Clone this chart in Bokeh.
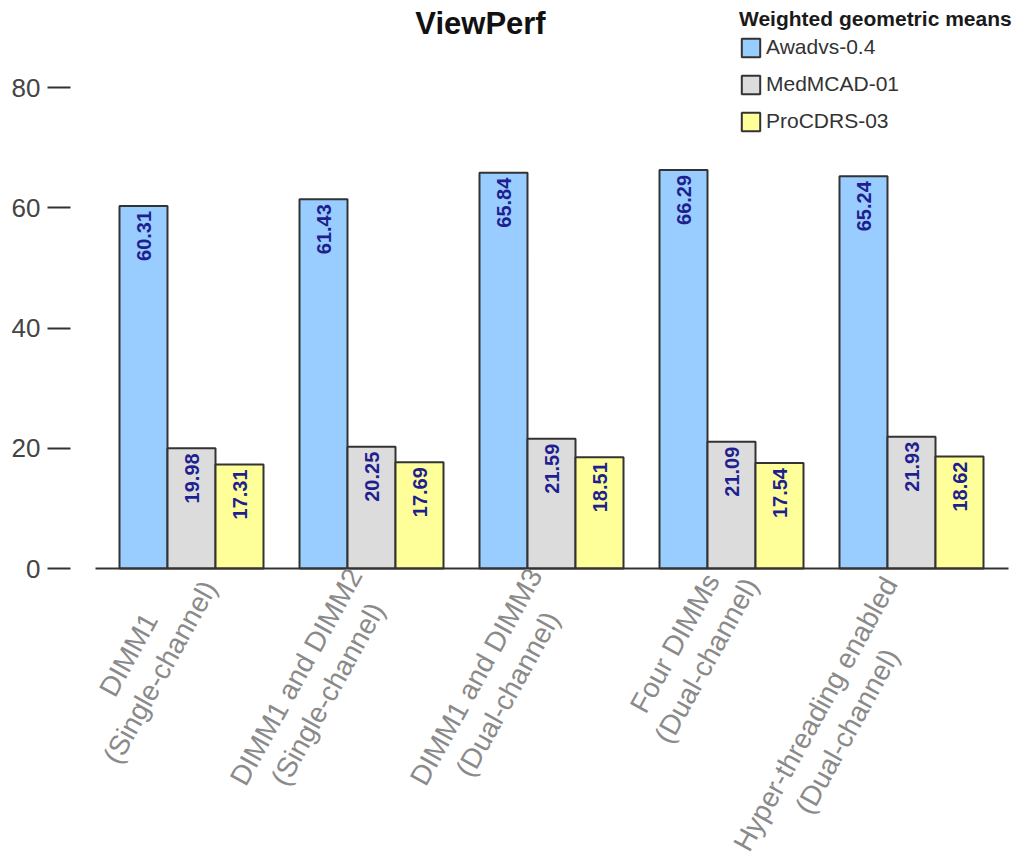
import math
from bokeh.plotting import figure
from bokeh.models import (Range1d, FixedTicker, ColumnDataSource, LabelSet, Label,
                          Legend, LegendItem)
from bokeh.embed import file_html
from bokeh.resources import INLINE
from bokeh.core.properties import value

# ---------------- data ----------------
chart_title = "ViewPerf"
legend_title = "Weighted geometric means"
categories = [
    "DIMM1\n(Single-channel)",
    "DIMM1 and DIMM2\n(Single-channel)",
    "DIMM1 and DIMM3\n(Dual-channel)",
    "Four DIMMs\n(Dual-channel)",
    "Hyper-threading enabled\n(Dual-channel)",
]
series_names = ["Awadvs-0.4", "MedMCAD-01", "ProCDRS-03"]
awadvs = [60.31, 61.43, 65.84, 66.29, 65.24]
medmcad = [19.98, 20.25, 21.59, 21.09, 21.93]
procdrs = [17.31, 17.69, 18.51, 17.54, 18.62]
y_ticks = [0, 20, 40, 60, 80]

# ---------------- style / layout ----------------
FONT = "Liberation Sans"
colors = ["#99ccff", "#dcdcdc", "#ffff99"]
W, H = 1024, 856
FL, FR, FT, FB = 70, W, 0, H          # frame edges on canvas (px)
ZERO_PX = 568                          # canvas y of value 0
CAT_PX = 180                           # px per category
FIRST_PX = 101                         # canvas x where first category starts
BAR_PX = 48
PPU = 481 / 80                         # px per y unit
X0 = -(FIRST_PX - FL) / CAT_PX
X1 = X0 + (FR - FL) / CAT_PX
Y0 = -(FB - ZERO_PX) / PPU
Y1 = (ZERO_PX - FT) / PPU


def cx(px):  # canvas x -> data x
    return X0 + (px - FL) / CAT_PX


def cy(py):  # canvas y -> data y
    return (ZERO_PX - py) / PPU


p = figure(width=W, height=H, output_backend="svg", toolbar_location=None,
           x_range=Range1d(X0, X1), y_range=Range1d(Y0, Y1),
           min_border_left=FL, min_border_right=0,
           min_border_top=0, min_border_bottom=0)
p.outline_line_color = None
p.xgrid.visible = False
p.ygrid.visible = False
p.xaxis.visible = False
p.background_fill_color = "white"
p.border_fill_color = "white"

ya = p.yaxis[0]
ya.ticker = FixedTicker(ticks=y_ticks)
ya.axis_line_color = None
ya.major_tick_in = 0
ya.major_tick_out = 23
ya.major_tick_line_color = "#333333"
ya.major_tick_line_width = 2
ya.minor_tick_line_color = None
ya.major_label_standoff = 7
ya.major_label_text_font = FONT
ya.major_label_text_font_size = "26px"
ya.major_label_text_color = "#444444"

# ---------------- bars ----------------
n = len(categories)
bw = BAR_PX / CAT_PX
series = [awadvs, medmcad, procdrs]
renderers = []
for k, vals in enumerate(series):
    xs = [i + 0.5 + (k - 1) * bw for i in range(n)]
    src = ColumnDataSource(dict(x=xs, top=vals,
                                lab=[f"{v:.2f}" for v in vals],
                                ly=[v - 5 / PPU for v in vals]))
    r = p.vbar(x="x", top="top", bottom=0, width=bw, source=src,
               fill_color=colors[k], line_color="#333333", line_width=2)
    renderers.append(r)
    p.text(x="x", y="ly", text="lab", source=src, angle=math.pi / 2,
           text_align="right", text_baseline="middle",
           text_font=value(FONT), text_font_style="bold",
           text_font_size="20px", text_color="#1f1f8f")

# baseline
p.segment(x0=[cx(95)], y0=[0], x1=[cx(1008)], y1=[0],
          line_color="#333333", line_width=2)

# ---------------- category labels (centred lines, rotated) ----------------
AW = {'D': 722, 'I': 278, 'M': 833, '1': 556, '2': 556, '3': 556, '(': 333,
      ')': 333, 'S': 667, 'i': 222, 'n': 556, 'g': 556, 'l': 222, 'e': 556,
      '-': 333, 'c': 500, 'h': 556, 'a': 556, 'd': 556, ' ': 278, 'u': 556,
      'F': 611, 'o': 556, 'r': 333, 's': 500, 'H': 722, 'y': 500, 'p': 556,
      't': 278, 'b': 556}
CAT_FS = 28
LINE_H = 36
ANG = math.radians(61)
ux, uy = math.cos(ANG), -math.sin(ANG)      # text direction (screen)
nx, ny = math.sin(ANG), math.cos(ANG)       # next-line direction (screen)


def tw(s):
    return sum(AW.get(c, 556) for c in s) / 1000 * CAT_FS


lx, ly, lt = [], [], []
for i, c in enumerate(categories):
    lines = c.split("\n")
    wmax = max(tw(line) for line in lines)
    px_ = FIRST_PX + (i + 0.5) * CAT_PX + 17     # reference point of label
    py_ = ZERO_PX - 21
    bx = px_ - ux * 0.65 * wmax                  # block centre
    by = py_ - uy * 0.65 * wmax
    m = len(lines)
    for j, line in enumerate(lines):
        off = (j - (m - 1) / 2) * LINE_H
        lx.append(cx(bx + nx * off))
        ly.append(cy(by + ny * off))
        lt.append(line)
csrc = ColumnDataSource(dict(x=lx, y=ly, text=lt))
p.add_layout(LabelSet(x="x", y="y", text="text", source=csrc, angle=ANG,
                      text_align="center", text_baseline="middle",
                      text_font=value(FONT), text_font_size=f"{CAT_FS}px",
                      text_color="#8a8a8a"))

# ---------------- title ----------------
p.add_layout(Label(x=cx(480), y=cy(23), text=chart_title, text_align="center",
                   text_baseline="middle", text_font=FONT,
                   text_font_style="bold", text_font_size="31px",
                   text_color="#111111"))

# ---------------- legend ----------------
legend = Legend(items=[LegendItem(label=series_names[k], renderers=[renderers[k]])
                       for k in range(3)],
                title=legend_title, location=(739 - FL, FB - 133),
                title_text_font=FONT, title_text_font_style="bold",
                title_text_font_size="21px", title_text_color="#1a1a1a",
                title_standoff=4,
                label_text_font=FONT, label_text_font_size="21px",
                label_text_color="#333333",
                glyph_width=23, glyph_height=23, label_height=23,
                label_standoff=4, spacing=13, padding=0, margin=0,
                border_line_color=None, background_fill_alpha=0)
p.add_layout(legend)

open("out.html", "w").write(file_html(p, INLINE))
